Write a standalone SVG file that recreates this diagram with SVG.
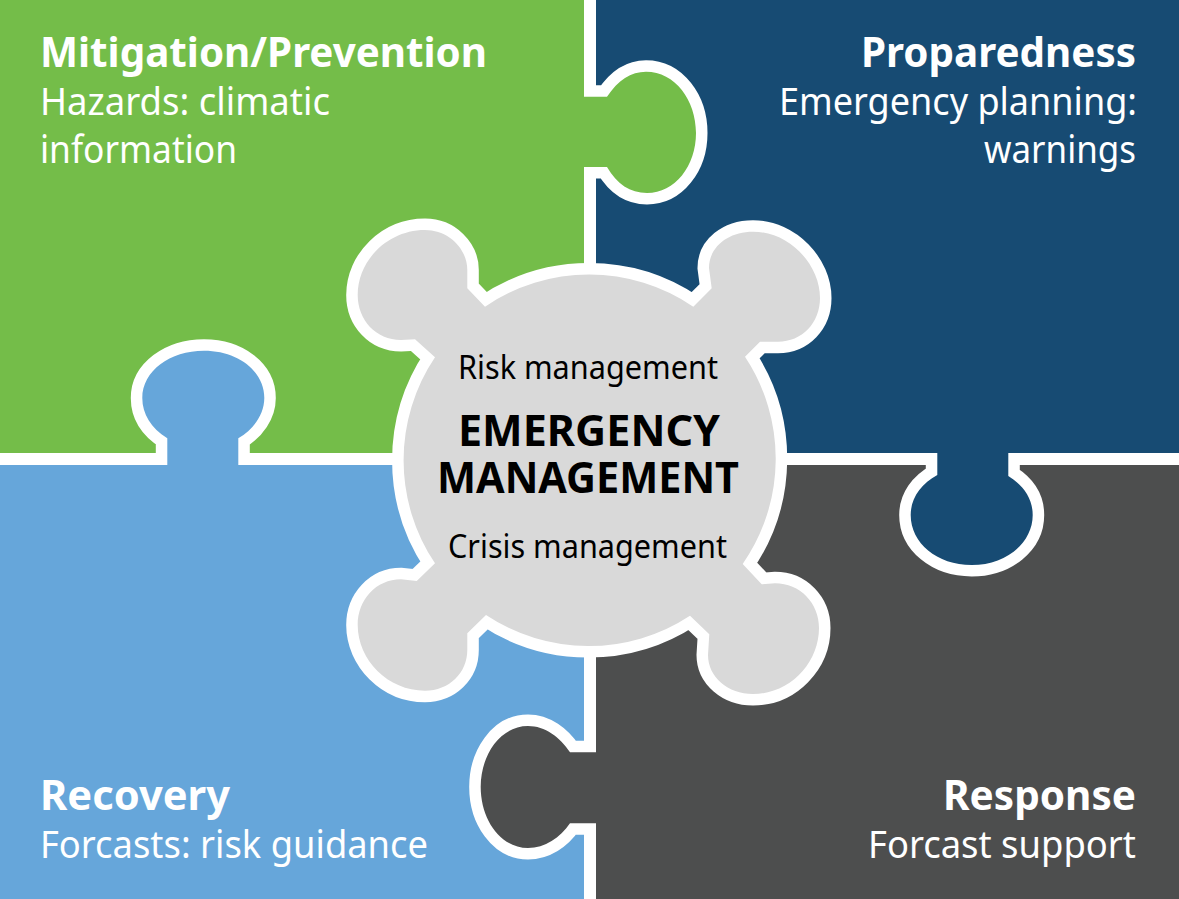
<svg xmlns="http://www.w3.org/2000/svg" width="1179" height="899" viewBox="0 0 1179 899">
<style>
.tab{stroke:#fff;stroke-width:23;paint-order:stroke;stroke-linejoin:miter}
.hub{fill:#d9d9d9;stroke:#fff;stroke-width:23;paint-order:stroke;stroke-linejoin:miter}
text{font-family:"Noto Sans","Open Sans","Liberation Sans",sans-serif}
.t{font-size:42px;font-weight:700;fill:#fff}
.s{font-size:38px;font-weight:400;fill:#fff}
.c{font-size:33px;font-weight:400;fill:#000}
.m{font-size:43px;font-weight:700;fill:#000}
</style>
<rect width="1179" height="899" fill="#fff"/>
<g id="mitigation">
<rect x="0" y="0" width="584" height="453" fill="#74bd49"/>
<text class="t" x="40" y="67" textLength="447" lengthAdjust="spacingAndGlyphs">Mitigation/Prevention</text>
<text class="s" x="40" y="115" textLength="290" lengthAdjust="spacingAndGlyphs">Hazards: climatic</text>
<text class="s" x="40" y="163" textLength="197" lengthAdjust="spacingAndGlyphs">information</text>
</g>
<g id="preparedness">
<rect x="596" y="0" width="583" height="453" fill="#174b73"/>
<text class="t" x="861" y="67" textLength="275" lengthAdjust="spacingAndGlyphs">Proparedness</text>
<text class="s" x="779" y="115" textLength="358" lengthAdjust="spacingAndGlyphs">Emergency planning:</text>
<text class="s" x="984" y="163" textLength="152" lengthAdjust="spacingAndGlyphs">warnings</text>
</g>
<g id="recovery">
<rect x="0" y="465" width="584" height="434" fill="#66a6da"/>
<text class="t" x="40" y="810" textLength="190" lengthAdjust="spacingAndGlyphs">Recovery</text>
<text class="s" x="40" y="857.500" textLength="388" lengthAdjust="spacingAndGlyphs">Forcasts: risk guidance</text>
</g>
<g id="response">
<rect x="596" y="465" width="583" height="434" fill="#4d4e4e"/>
<text class="t" x="943" y="810" textLength="193" lengthAdjust="spacingAndGlyphs">Response</text>
<text class="s" x="868" y="857.500" textLength="268" lengthAdjust="spacingAndGlyphs">Forcast support</text>
</g>
<g id="tabs">
<path id="tab-green" class="tab" fill="#74bd49" d="M584 96.700H607C618 80 631 71.700 646 71.700C675 71.700 696 100 696 133C696 166 675 193 647 193C630 193 617 184 607 167H584"/>
<path id="tab-navy" class="tab" fill="#174b73" d="M937.300 453V475C921 484 910.700 498 910.700 515C910.700 543 937 565 971.700 565C1006 565 1032.700 543 1032.700 515C1032.700 498 1023 485 1008.300 476V453"/>
<path id="tab-gray" class="tab" fill="#4d4e4e" d="M596 752.300H570C560 737 545 726 528 726C500 726 480.700 755 480.700 787C480.700 819 500 848 528 848C545 848 560 838 570 823.300H596"/>
<path id="tab-blue" class="tab" fill="#66a6da" d="M167.300 465V438.300C151 428 142.300 414 142.300 398C142.300 371 170 350.700 204 350.700C238 350.700 264.300 371 264.300 398C264.300 414 254 429 238.300 438.300V465"/>
</g>
<g id="emergency-management">
<path class="hub" d="M485 306.700A184.600 184.600 0 0 1 693.300 306.700L711.700 288.300L709 268C709 247 728 231.700 753 231.700C790 231.700 820 265 820 298C820 323 802 341.700 778 341.700L760 341.700L745 356.700A184.600 184.600 0 0 1 742.700 564L761.700 584.300L775 583.300C800 583.300 819 603 819 628C819 663 790 694 753 694C728 694 708 677 708 655L709.300 634.300L690 615.700A184.600 184.600 0 0 1 486 615L467.300 633.300V650C467.300 673 449 690.700 425 690.700C388 690.700 357.700 660 357.700 625C357.700 600 376 579.300 401 579.300L416.700 581L435 563.300A184.600 184.600 0 0 1 435 357.300L415 339.300L401 340C376 340 357.700 320 357.700 295C357.700 260 388 230 425 230C449 230 467.300 249 467.300 270V288.300Z"/>
<text class="c" x="458" y="379" textLength="260" lengthAdjust="spacingAndGlyphs">Risk management</text>
<text class="m" x="458" y="445.500" textLength="262" lengthAdjust="spacingAndGlyphs">EMERGENCY</text>
<text class="m" x="437" y="493" textLength="302" lengthAdjust="spacingAndGlyphs">MANAGEMENT</text>
<text class="c" x="448" y="558" textLength="279" lengthAdjust="spacingAndGlyphs">Crisis management</text>
</g>
</svg>
